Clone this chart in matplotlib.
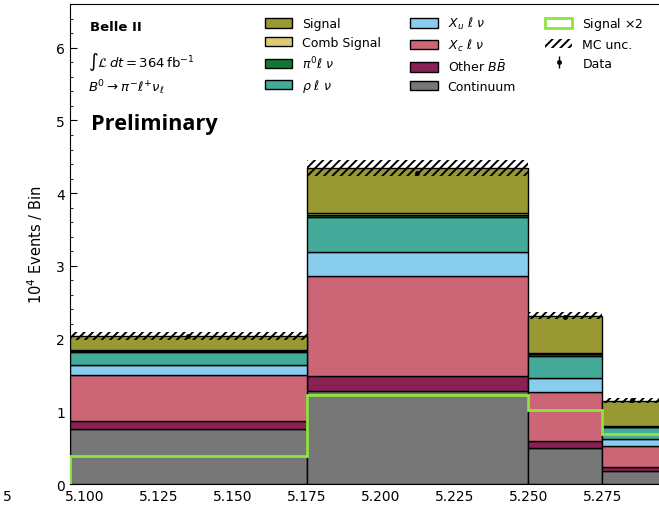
import matplotlib
matplotlib.use('Agg')
import matplotlib.pyplot as plt
from matplotlib.patches import Patch
from matplotlib.ticker import MultipleLocator
import numpy as np

plt.rcParams['hatch.linewidth'] = 1.4

# Bin edges (Mbc, GeV)
edges = np.array([5.095, 5.175, 5.250, 5.275, 5.295])

# Stack components in units of 10^4 events, bottom to top
continuum = [0.750, 1.285, 0.496, 0.184]
other_bb  = [0.110, 0.205, 0.092, 0.046]
xc_lnu    = [0.640, 1.375, 0.682, 0.298]
xu_lnu    = [0.140, 0.330, 0.190, 0.092]
rho_lnu   = [0.170, 0.475, 0.307, 0.160]
pi0_lnu   = [0.018, 0.030, 0.020, 0.010]
comb_sig  = [0.017, 0.032, 0.020, 0.010]
signal    = [0.190, 0.613, 0.510, 0.347]

mc_unc    = [0.055, 0.110, 0.050, 0.030]
data      = [2.030, 4.280, 2.300, 1.150]
data_err  = [0.014, 0.021, 0.015, 0.011]

names = ['Continuum', r'Other $B\bar{B}$', r'$X_c\ \ell\ \nu$', r'$X_u\ \ell\ \nu$',
         r'$\rho\ \ell\ \nu$', r'$\pi^0\ell\ \nu$', 'Comb Signal', 'Signal']
comps = [continuum, other_bb, xc_lnu, xu_lnu, rho_lnu, pi0_lnu, comb_sig, signal]
colors = ['#777777', '#882255', '#CC6677', '#88CCEE',
          '#44AA99', '#117733', '#DDCC77', '#999933']
sig2_color = '#8ee53f'

fig = plt.figure(figsize=(6.59, 5.10), dpi=100)
ax = fig.add_axes([0.106, 0.049, 0.9, 0.941])

widths = np.diff(edges)
bottom = np.zeros(len(widths))
for vals, c in zip(comps, colors):
    ax.bar(edges[:-1], vals, width=widths, bottom=bottom, align='edge',
           color=c, edgecolor='black', linewidth=1.0, zorder=2)
    bottom = bottom + np.array(vals)
total = bottom

ax.stairs(2 * np.array(signal), edges, baseline=0, color=sig2_color,
          linewidth=2, zorder=3)

unc = np.array(mc_unc)
ax.bar(edges[:-1], 2 * unc, width=widths, bottom=total - unc, align='edge',
       fill=False, hatch='////', edgecolor='black', linewidth=0, zorder=4)

centers = 0.5 * (edges[1:] + edges[:-1])
ax.errorbar(centers, data, yerr=data_err, fmt='o', color='black', ms=2.5,
            elinewidth=1, zorder=5)

ax.set_xlim(5.095, 5.2955)
ax.set_ylim(0, 6.6)
ax.xaxis.set_major_locator(MultipleLocator(0.025))
ax.xaxis.set_minor_locator(MultipleLocator(0.005))
ax.yaxis.set_major_locator(MultipleLocator(1))
ax.yaxis.set_minor_locator(MultipleLocator(0.2))
ax.xaxis.set_major_formatter(matplotlib.ticker.FormatStrFormatter('%.3f'))
ax.tick_params(which='both', direction='in', labelsize=10)
ax.tick_params(which='major', length=5)
ax.tick_params(which='minor', length=2.5)
ax.set_ylabel(r'$10^4$ Events / Bin', fontsize=10.5, labelpad=8)

ax.text(0.034, 0.954, 'Belle II', transform=ax.transAxes, fontsize=9.5,
        fontweight='bold', va='center')
ax.text(0.031, 0.881, r'$\int\mathcal{L}\,dt = 364\,\mathrm{fb}^{-1}$',
        transform=ax.transAxes, fontsize=9.5, va='center')
ax.text(0.031, 0.829, r'$B^0 \rightarrow \pi^{-}\ell^{+}\nu_{\ell}$',
        transform=ax.transAxes, fontsize=9.5, va='center')
ax.text(0.036, 0.752, 'Preliminary', transform=ax.transAxes, fontsize=15.6,
        fontweight='bold', family='Open Sans', va='center')

handles = [Patch(facecolor=c, edgecolor='black', linewidth=1) for c in colors]
handles = handles[::-1]
labels = names[::-1]
h = handles + [
    Patch(facecolor='none', edgecolor=sig2_color, linewidth=2),
    Patch(facecolor='none', edgecolor='black', hatch='////', linewidth=0),
    ax.errorbar([], [], yerr=[], fmt='o', color='black', ms=2.5, elinewidth=1)]
l = labels + [r'Signal $\times 2$', 'MC unc.', 'Data']
ax.legend(h, l, ncol=3, loc='upper left', bbox_to_anchor=(0.31, 1.0),
          frameon=False, fontsize=9, handlelength=2.2, handleheight=0.75,
          labelspacing=0.45, columnspacing=2.3)

fig.text(0.004, 0.025, '5', fontsize=10, va='center')

fig.savefig('out.png', dpi=100)
